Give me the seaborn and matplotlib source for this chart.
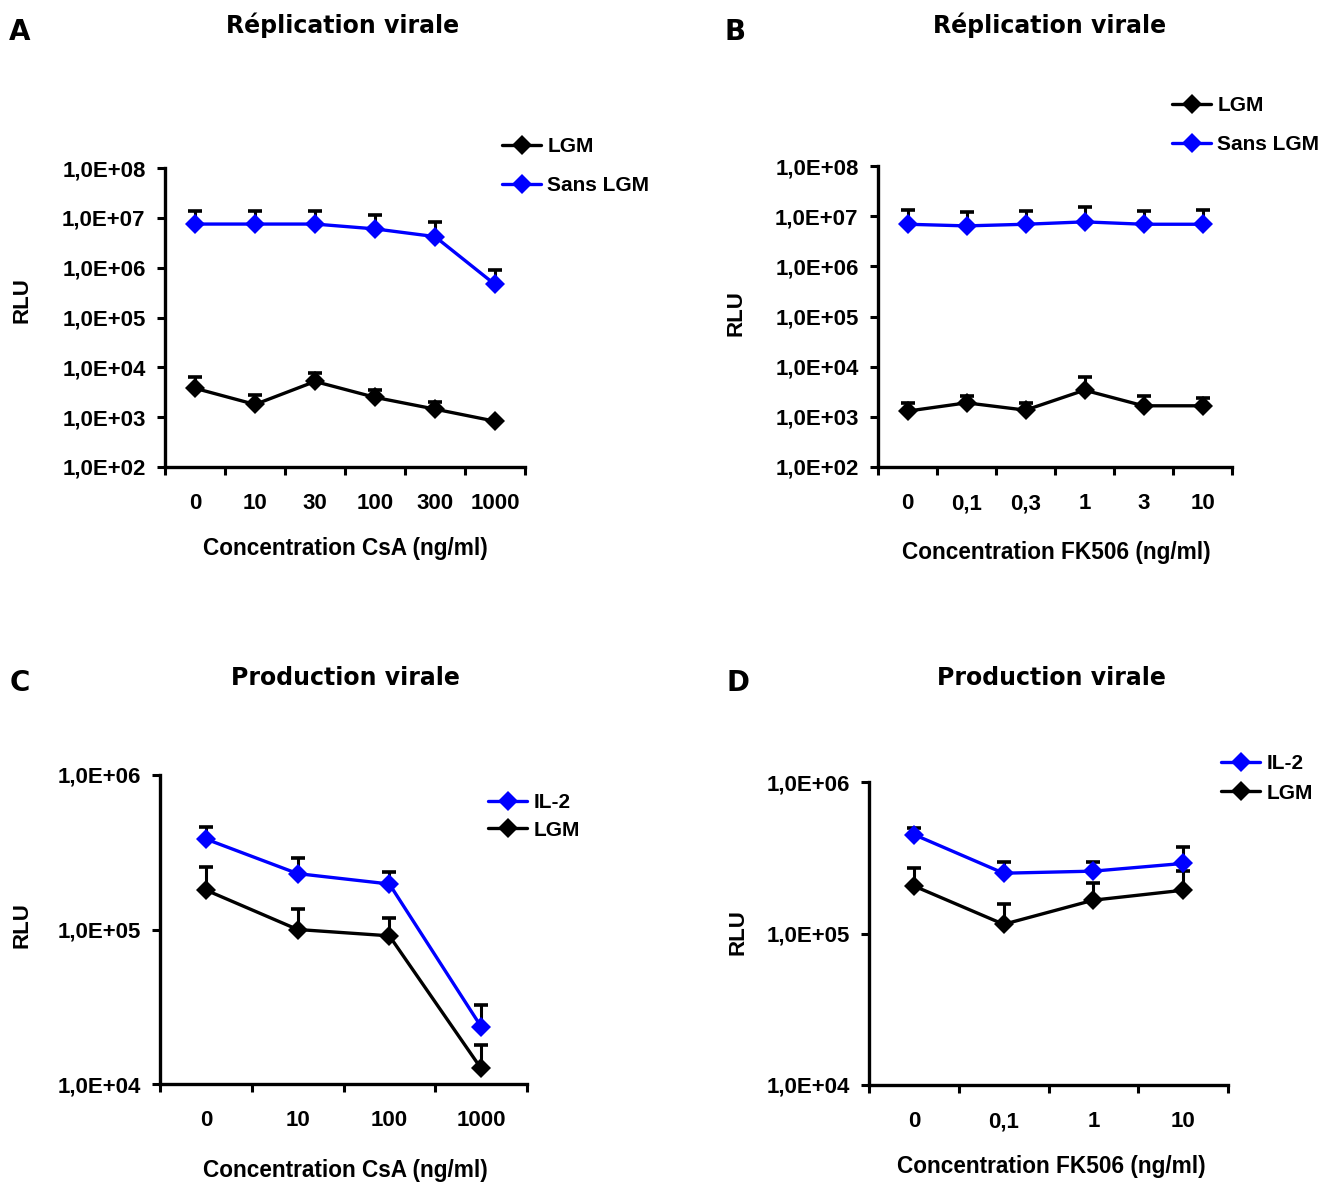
import matplotlib
matplotlib.use("Agg")
import matplotlib.pyplot as plt
import numpy as np
import pandas as pd
import seaborn as sns

# panel A: CsA, viral replication
A_conc = ["0", "10", "30", "100", "300", "1000"]
A_lgm = [3800, 1800, 5200, 2500, 1450, 830]
A_lgm_err = [2500, 950, 2400, 1000, 550, 0]
A_sans = [7.5e6, 7.5e6, 7.5e6, 6.0e6, 4.2e6, 4.6e5]
A_sans_err = [6.5e6, 6.5e6, 6.5e6, 5.5e6, 4.1e6, 4.5e5]

# panel B: FK506, viral replication
B_conc = ["0", "0,1", "0,3", "1", "3", "10"]
B_lgm = [1300, 1900, 1360, 3400, 1660, 1660]
B_lgm_err = [600, 700, 540, 2900, 940, 740]
B_sans = [6.9e6, 6.4e6, 6.9e6, 7.7e6, 6.9e6, 6.9e6]
B_sans_err = [6.6e6, 5.6e6, 5.8e6, 7.3e6, 5.8e6, 6.6e6]

# panel C: CsA, viral production
C_conc = ["0", "10", "100", "1000"]
C_il2 = [3.85e5, 2.3e5, 1.97e5, 2.35e4]
C_il2_err = [0.75e5, 0.6e5, 0.4e5, 0.9e4]
C_lgm = [1.8e5, 1.0e5, 9.1e4, 1.26e4]
C_lgm_err = [0.75e5, 0.35e5, 0.27e5, 0.54e4]

# panel D: FK506, viral production
D_conc = ["0", "0,1", "1", "10"]
D_il2 = [4.5e5, 2.5e5, 2.58e5, 2.9e5]
D_il2_err = [0.5e5, 0.47e5, 0.39e5, 0.8e5]
D_lgm = [2.06e5, 1.15e5, 1.66e5, 1.93e5]
D_lgm_err = [0.66e5, 0.41e5, 0.51e5, 0.67e5]

COLORS = {"LGM": "black", "Sans LGM": "#0000ff", "IL-2": "#0000ff"}
ARIAL = "Liberation Sans"
VERDANA = "DejaVu Sans"

sns.set_theme(style="ticks")
plt.rcParams["font.family"] = [ARIAL, "DejaVu Sans"]
plt.rcParams.update({"text.color": "black", "axes.labelcolor": "black",
                     "xtick.color": "black", "ytick.color": "black"})

W, H = 1339, 1182
fig = plt.figure(figsize=(W / 100, H / 100), dpi=100)


def px_axes(left, top, right, bottom):
    return fig.add_axes([left / W, 1 - bottom / H, (right - left) / W, (bottom - top) / H])


def fx(x):
    return x / W


def fy(y):
    return 1 - y / H


def draw_panel(ax, conc, series, ylim, decades, legend_xy, spacing):
    rows = []
    for name, vals, errs in series:
        for i, (v, e) in enumerate(zip(vals, errs)):
            rows.append({"pos": i, "rlu": v, "err": e, "serie": name})
    df = pd.DataFrame(rows)
    order = [s[0] for s in series]
    for name, vals, errs in series:
        ax.errorbar(range(len(vals)), vals, yerr=[np.zeros(len(errs)), errs], fmt="none",
                    ecolor="black", elinewidth=2.2, capsize=5, capthick=2.6, zorder=2)
    sns.lineplot(data=df, x="pos", y="rlu", hue="serie", hue_order=order, palette=COLORS,
                 marker="D", markersize=10, markeredgewidth=0, linewidth=2.4, ax=ax,
                 zorder=3, legend=True)
    ax.set_yscale("log")
    ax.set_ylim(*ylim)
    n = len(conc)
    ax.set_xlim(-0.5, n - 0.5)
    ax.set_xticks(np.arange(n + 1) - 0.5)
    ax.set_xticklabels([])
    ax.set_xticks(np.arange(n), minor=True)
    ax.set_xticklabels(conc, minor=True, fontsize=16, fontweight="bold", family=ARIAL)
    ax.tick_params(axis="x", which="major", length=6, width=2.2, direction="out", color="black")
    ax.tick_params(axis="x", which="minor", length=0, pad=19)
    ticks = [10.0 ** k for k in decades]
    ax.yaxis.set_major_locator(matplotlib.ticker.FixedLocator(ticks))
    ax.yaxis.set_minor_locator(matplotlib.ticker.NullLocator())
    ax.set_yticklabels(["1,0E+%02d" % k for k in decades], fontsize=16, fontweight="bold", family=ARIAL)
    ax.tick_params(axis="y", length=6, width=2.2, direction="out", color="black", pad=8)
    for side in ("top", "right"):
        ax.spines[side].set_visible(False)
    for side in ("left", "bottom"):
        ax.spines[side].set_linewidth(2.4)
        ax.spines[side].set_color("black")
    ax.set_xlabel("")
    ax.set_ylabel("")
    handles, labels = ax.get_legend_handles_labels()
    ax.legend(handles, labels, loc="center left", bbox_to_anchor=(fx(legend_xy[0] - 10), fy(legend_xy[1])),
              bbox_transform=fig.transFigure, frameon=False, borderpad=0, handlelength=1.85,
              handletextpad=0.3, labelspacing=spacing, prop={"family": ARIAL, "weight": "bold", "size": 15})


axA = px_axes(165, 168, 525, 467)
draw_panel(axA, A_conc, [("LGM", A_lgm, A_lgm_err), ("Sans LGM", A_sans, A_sans_err)],
           (1e2, 1e8), range(2, 9), (502, 166), 0.95)
axB = px_axes(878, 166, 1232, 467)
draw_panel(axB, B_conc, [("LGM", B_lgm, B_lgm_err), ("Sans LGM", B_sans, B_sans_err)],
           (1e2, 1e8), range(2, 9), (1172, 125), 0.95)
axC = px_axes(160, 775, 527, 1084)
draw_panel(axC, C_conc, [("IL-2", C_il2, C_il2_err), ("LGM", C_lgm, C_lgm_err)],
           (1e4, 1e6), range(4, 7), (488, 816.5), 0.4)
axD = px_axes(869, 782, 1228, 1085)
draw_panel(axD, D_conc, [("IL-2", D_il2, D_il2_err), ("LGM", D_lgm, D_lgm_err)],
           (1e4, 1e6), range(4, 7), (1221, 778.5), 0.5)

titles = [("Réplication virale", 343, 25), ("Réplication virale", 1050, 25),
          ("Production virale", 345, 678), ("Production virale", 1051, 678)]
for txt, x, y in titles:
    fig.text(fx(x), fy(y), txt, ha="center", va="center", fontsize=17, fontweight="bold", family=VERDANA)

letters = [("A", 20, 32), ("B", 735, 32), ("C", 20, 683), ("D", 738, 683)]
for txt, x, y in letters:
    fig.text(fx(x), fy(y), txt, ha="center", va="center", fontsize=20, fontweight="bold", family=VERDANA)

xlabels = [("Concentration CsA (ng/ml)", 345, 549), ("Concentration FK506 (ng/ml)", 1056, 552),
           ("Concentration CsA (ng/ml)", 345, 1170), ("Concentration FK506 (ng/ml)", 1051, 1167)]
for txt, x, y in xlabels:
    fig.text(fx(x), fy(y), txt, ha="center", va="center", fontsize=16.3, fontweight="bold", family=ARIAL)

for x, y in [(22, 300), (736, 313), (22, 925), (738, 932)]:
    fig.text(fx(x), fy(y), "RLU", ha="center", va="center", rotation=90, fontsize=16,
             fontweight="bold", family=ARIAL)

fig.savefig("out.png", dpi=100, facecolor="white")
